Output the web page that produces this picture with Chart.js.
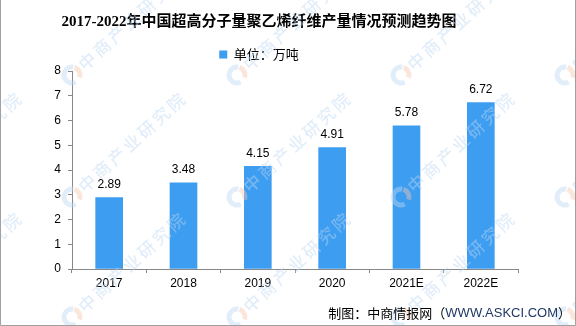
<!DOCTYPE html>
<html>
<head>
<meta charset="utf-8">
<script src="https://cdn.jsdelivr.net/npm/chart.js@4/dist/chart.umd.min.js"></script>
<style>
 html,body{margin:0;padding:0;background:#fff;}
 #box{width:576px;height:326px;position:relative;}
</style>
</head>
<body>
<div id="box"><canvas id="c" width="576" height="326"></canvas></div>
<script>
// 产量（万吨）
const years=["2017","2018","2019","2020","2021E","2022E"];
const output=[2.89,3.48,4.15,4.91,5.78,6.72];
const yTicks=[0,1,2,3,4,5,6,7,8];

const BAR="#3d9df1";
const CJK='"Noto Sans CJK SC","Noto Sans",sans-serif';

/* 水印 */
function drawMark(ctx,x,y){
 ctx.save();
 ctx.globalAlpha=0.45;
 ctx.lineWidth=5;
 ctx.strokeStyle="#bcd7f1";
 ctx.beginPath();
 ctx.arc(x,y,8,Math.PI*0.35,Math.PI*1.55);
 ctx.stroke();
 ctx.strokeStyle="#f7c8b0";
 ctx.beginPath();
 ctx.arc(x,y,8,Math.PI*1.6,Math.PI*2.1);
 ctx.stroke();
 ctx.translate(x+9,y-8);
 ctx.rotate(-0.74);
 ctx.fillStyle="#bcd7f1";
 ctx.font='500 17px '+CJK;
 ctx.letterSpacing="3px";
 ctx.textBaseline="middle";
 ctx.fillText("中商产业研究院",0,0);
 ctx.restore();
}

const decor={
 id:"decor",
 beforeDraw(chart){
  const ctx=chart.ctx;
  ctx.save();
  ctx.fillStyle="#fff";
  ctx.fillRect(0,0,chart.width,chart.height);
  ctx.restore();
 },
 afterDatasetsDraw(chart){
  const ctx=chart.ctx;
  const meta=chart.getDatasetMeta(0);
  ctx.save();
  ctx.font='12px "Liberation Sans",sans-serif';
  ctx.fillStyle="#000";
  ctx.textAlign="center";
  ctx.textBaseline="bottom";
  meta.data.forEach((bar,i)=>{
   ctx.fillText(output[i].toFixed(2),bar.x,bar.y-7);
  });
  ctx.restore();
 },
 afterDraw(chart){
  const ctx=chart.ctx;
  [-92,72,237,401,565].forEach(x=>{
   [-46,75,197,317].forEach(y=>drawMark(ctx,x,y));
  });

  // 来源
  ctx.save();
  ctx.font='13px '+CJK;
  ctx.textBaseline="middle";
  ctx.textAlign="right";
  let x=571;const y=313;
  ctx.fillStyle="#000";
  ctx.fillText("）",x,y);
  x-=ctx.measureText("）").width;
  ctx.fillStyle="#1f3864";
  ctx.font='13px "Liberation Sans",sans-serif';
  ctx.fillText("WWW.ASKCI.COM",x,y);
  x-=ctx.measureText("WWW.ASKCI.COM").width;
  ctx.fillStyle="#000";
  ctx.font='13px '+CJK;
  ctx.fillText("制图：中商情报网（",x,y);

  // 外框
  ctx.strokeStyle="#a0a0a0";
  ctx.lineWidth=1;
  ctx.beginPath();
  ctx.moveTo(0.5,0);ctx.lineTo(0.5,325.5);
  ctx.lineTo(575.5,325.5);ctx.lineTo(575.5,0);
  ctx.stroke();
  ctx.restore();
 }
};

new Chart(document.getElementById("c"),{
 type:"bar",
 data:{
  labels:years,
  datasets:[{
   label:"单位：万吨",
   data:output,
   backgroundColor:BAR,
   barThickness:27
  }]
 },
 options:{
  responsive:false,
  animation:false,
  layout:{padding:{left:0,right:58,top:0,bottom:0}},
  plugins:{
   title:{
    display:true,
    text:"2017-2022年中国超高分子量聚乙烯纤维产量情况预测趋势图",
    color:"#000",
    font:{size:15,weight:"bold",family:'"Liberation Serif","Noto Sans CJK SC",serif'},
    padding:{top:13,bottom:7}
   },
   legend:{
    display:true,
    labels:{
     color:"#000",
     boxWidth:8,
     boxHeight:8,
     padding:10,
     font:{size:13,family:CJK}
    }
   },
   tooltip:{enabled:false}
  },
  scales:{
   x:{
    afterFit(s){s.height=57;},
    grid:{drawOnChartArea:false,drawTicks:true,tickLength:4,color:"#888"},
    border:{color:"#888"},
    ticks:{color:"#000",padding:3,font:{size:12,family:'"Liberation Sans",sans-serif'}}
   },
   y:{
    min:0,
    max:8,
    afterFit(s){s.width=72;},
    afterBuildTicks(s){s.ticks=yTicks.map(v=>({value:v}));},
    grid:{drawOnChartArea:false,drawTicks:true,tickLength:4,color:"#888"},
    border:{color:"#888"},
    ticks:{color:"#000",padding:7,font:{size:12,family:'"Liberation Sans",sans-serif'}}
   }
  }
 },
 plugins:[decor]
});
</script>
</body>
</html>
